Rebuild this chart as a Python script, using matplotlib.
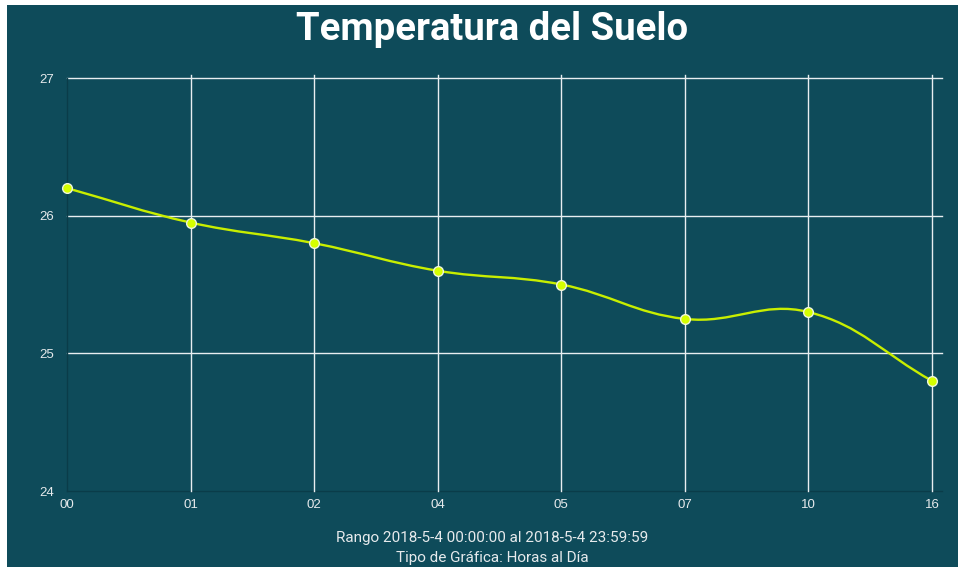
import numpy as np
import matplotlib
matplotlib.use("Agg")
import matplotlib.pyplot as plt
from matplotlib.path import Path
from matplotlib.patches import PathPatch, Rectangle

# ---- data ----
hours = ["00", "01", "02", "04", "05", "07", "10", "16"]
temps = [26.2, 25.95, 25.8, 25.6, 25.5, 25.25, 25.3, 24.8]
y_ticks = [24, 25, 26, 27]
title = "Temperatura del Suelo"
footer = ["Rango 2018-5-4 00:00:00 al 2018-5-4 23:59:59",
          "Tipo de Gráfica: Horas al Día"]

BG = "#0e4b5a"
AXIS_DARK = "#0a3c49"
GRID = "#e8eef0"
LINE = "#c8ee00"
MARK = "#d6ff00"
TXT = "#e6eaec"

W, H = 958, 567
fig = plt.figure(figsize=(W / 100, H / 100), dpi=100, facecolor="white")
fig.patches.append(Rectangle((7 / W, 0), 1 - 7 / W, 1 - 5 / H,
                             transform=fig.transFigure, facecolor=BG,
                             edgecolor="none", zorder=-10))

L, R, T, B = 67, 932, 78, 491
ax = fig.add_axes([L / W, 1 - B / H, (R - L) / W, (B - T) / H])
ax.set_facecolor("none")
x = np.arange(len(hours))
ax.set_xlim(0, len(hours) - 1)
ax.set_ylim(min(y_ticks), max(y_ticks))
for s in ax.spines.values():
    s.set_visible(False)

ax.set_xticks(x)
ax.set_xticklabels(hours, fontfamily="Liberation Sans")
ax.set_yticks(y_ticks)
ax.set_yticklabels([str(v) for v in y_ticks], fontfamily="Liberation Sans")
ax.tick_params(length=0, colors=TXT, labelsize=9.5)
ax.tick_params(axis="x", pad=6)
ax.tick_params(axis="y", pad=9)

ext = (942 - L) / (R - L)
up = 1 + 3 / (B - T)
for yv in y_ticks:
    col = AXIS_DARK if yv == min(y_ticks) else GRID
    ax.axhline(yv, xmin=0, xmax=ext, color=col, lw=1.0, clip_on=False, zorder=1)
for i in x:
    if i == 0:
        ax.axvline(i, ymin=0, ymax=1, color=AXIS_DARK, lw=1.0, clip_on=False, zorder=1)
    else:
        ax.axvline(i, ymin=0, ymax=up, color=GRID, lw=1.0, clip_on=False, zorder=1)

# Chart.js-like cubic spline (tension 0.4) computed in pixel space
fig.canvas.draw()
pts = ax.transData.transform(np.column_stack([x, temps]))
t = 0.4
n = len(pts)
cp_prev = np.zeros_like(pts)
cp_next = np.zeros_like(pts)
for i in range(n):
    p0 = pts[i - 1] if i > 0 else pts[i]
    p1 = pts[i]
    p2 = pts[i + 1] if i < n - 1 else pts[i]
    d01 = np.hypot(*(p1 - p0))
    d12 = np.hypot(*(p2 - p1))
    tot = d01 + d12
    s01 = d01 / tot if tot else 0
    s12 = d12 / tot if tot else 0
    cp_prev[i] = p1 - t * s01 * (p2 - p0)
    cp_next[i] = p1 + t * s12 * (p2 - p0)
verts = [pts[0]]
codes = [Path.MOVETO]
for i in range(n - 1):
    verts += [cp_next[i], cp_prev[i + 1], pts[i + 1]]
    codes += [Path.CURVE4] * 3
inv = ax.transData.inverted()
verts_d = inv.transform(np.array(verts))
ax.add_patch(PathPatch(Path(verts_d, codes), facecolor="none", edgecolor=LINE,
                       lw=1.7, zorder=3, clip_on=False))
ax.plot(x, temps, linestyle="none", marker="o", ms=7.0, mfc=MARK,
        mec="#eef5dc", mew=1.0, zorder=4, clip_on=False)

fig.text(492 / W, 1 - 29 / H, title, ha="center", va="center", color="white",
         fontsize=27.5, fontweight="bold", family="Roboto")
fig.text(492 / W, 1 - 538 / H, footer[0], ha="center", va="center", color=TXT,
         fontsize=11, family="Roboto")
fig.text(492 / W, 1 - 558 / H, footer[1], ha="center", va="center", color=TXT,
         fontsize=11, family="Roboto")

fig.savefig("out.png", dpi=100, facecolor=fig.get_facecolor())
